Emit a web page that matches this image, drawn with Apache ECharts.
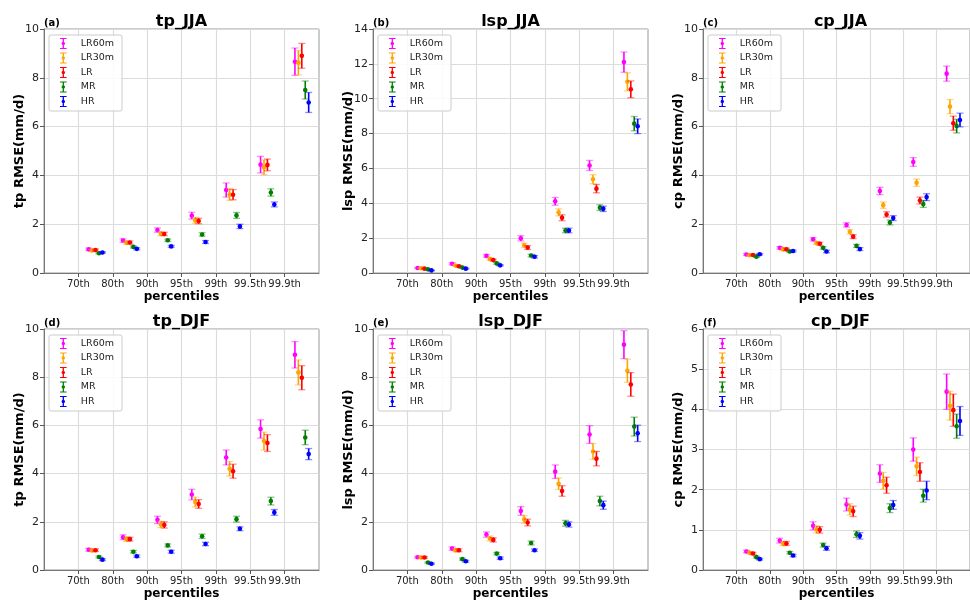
<!DOCTYPE html>
<html>
<head>
<meta charset="utf-8">
<script src="https://cdn.jsdelivr.net/npm/echarts@6/dist/echarts.min.js"></script>
<style>
  html, body { margin: 0; padding: 0; background: #fff; }
  #main { width: 970px; height: 601px; }
</style>
</head>
<body>
<div id="main"></div>
<script>
// percentile groups and models
var cats = ['70th', '80th', '90th', '95th', '99th', '99.5th', '99.9th'];
var models = ['LR60m', 'LR30m', 'LR', 'MR', 'HR'];
var colors = ['#ff00ff', '#ffa500', '#ff0000', '#008000', '#0000ff'];
var offsets = [0.3, 0.4, 0.5, 0.6, 0.7];

// rows: LR60m, LR30m, LR, MR, HR
var tpJJA = [
    [0.97, 1.33, 1.76, 2.35, 3.40, 4.44, 8.66],
    [0.92, 1.24, 1.61, 2.16, 3.22, 4.33, 8.62],
    [0.94, 1.25, 1.60, 2.13, 3.21, 4.43, 8.90],
    [0.81, 1.07, 1.34, 1.58, 2.36, 3.30, 7.50],
    [0.84, 0.99, 1.09, 1.27, 1.91, 2.81, 6.99]
];
var tpJJAErr = [
    [0.05, 0.07, 0.09, 0.14, 0.29, 0.34, 0.56],
    [0.04, 0.06, 0.08, 0.12, 0.24, 0.30, 0.50],
    [0.04, 0.06, 0.07, 0.11, 0.21, 0.24, 0.51],
    [0.03, 0.04, 0.05, 0.07, 0.12, 0.15, 0.37],
    [0.03, 0.04, 0.04, 0.06, 0.09, 0.10, 0.41]
];
var lspJJA = [
    [0.29, 0.53, 0.98, 1.99, 4.11, 6.17, 12.10],
    [0.27, 0.43, 0.81, 1.59, 3.48, 5.38, 10.97],
    [0.25, 0.39, 0.74, 1.46, 3.17, 4.84, 10.54],
    [0.21, 0.31, 0.55, 1.00, 2.44, 3.75, 8.57],
    [0.15, 0.25, 0.44, 0.93, 2.44, 3.68, 8.42]
];
var lspJJAErr = [
    [0.04, 0.06, 0.08, 0.15, 0.22, 0.29, 0.58],
    [0.03, 0.05, 0.07, 0.13, 0.20, 0.26, 0.52],
    [0.03, 0.05, 0.06, 0.11, 0.17, 0.24, 0.48],
    [0.02, 0.03, 0.05, 0.07, 0.13, 0.16, 0.41],
    [0.02, 0.03, 0.04, 0.07, 0.13, 0.15, 0.42]
];
var cpJJA = [
    [0.76, 1.03, 1.38, 1.97, 3.36, 4.55, 8.17],
    [0.73, 0.97, 1.23, 1.69, 2.78, 3.70, 6.82],
    [0.74, 0.97, 1.20, 1.49, 2.40, 2.97, 6.14],
    [0.67, 0.88, 1.03, 1.11, 2.07, 2.83, 6.02],
    [0.77, 0.90, 0.88, 0.98, 2.25, 3.11, 6.27]
];
var cpJJAErr = [
    [0.04, 0.05, 0.07, 0.09, 0.15, 0.18, 0.31],
    [0.03, 0.05, 0.06, 0.09, 0.13, 0.15, 0.29],
    [0.03, 0.05, 0.06, 0.08, 0.11, 0.14, 0.29],
    [0.03, 0.04, 0.05, 0.06, 0.10, 0.14, 0.28],
    [0.03, 0.04, 0.05, 0.06, 0.10, 0.14, 0.28]
];
var tpDJF = [
    [0.84, 1.36, 2.08, 3.13, 4.67, 5.85, 8.93],
    [0.81, 1.28, 1.89, 2.82, 4.20, 5.35, 8.20],
    [0.82, 1.28, 1.87, 2.74, 4.10, 5.27, 7.98],
    [0.54, 0.76, 1.02, 1.40, 2.11, 2.86, 5.50],
    [0.43, 0.57, 0.76, 1.08, 1.71, 2.39, 4.81]
];
var tpDJFErr = [
    [0.06, 0.10, 0.15, 0.22, 0.31, 0.38, 0.55],
    [0.05, 0.09, 0.13, 0.20, 0.30, 0.37, 0.52],
    [0.05, 0.08, 0.13, 0.18, 0.29, 0.35, 0.50],
    [0.04, 0.05, 0.06, 0.09, 0.12, 0.16, 0.30],
    [0.04, 0.05, 0.06, 0.07, 0.08, 0.12, 0.23]
];
var lspDJF = [
    [0.53, 0.89, 1.47, 2.45, 4.08, 5.62, 9.35],
    [0.52, 0.82, 1.31, 2.10, 3.58, 4.92, 8.27],
    [0.52, 0.82, 1.25, 1.97, 3.28, 4.62, 7.70],
    [0.31, 0.45, 0.68, 1.12, 1.94, 2.86, 5.95],
    [0.26, 0.36, 0.49, 0.82, 1.89, 2.69, 5.67]
];
var lspDJFErr = [
    [0.04, 0.07, 0.11, 0.18, 0.28, 0.37, 0.58],
    [0.04, 0.06, 0.10, 0.16, 0.24, 0.33, 0.48],
    [0.04, 0.06, 0.09, 0.14, 0.22, 0.30, 0.49],
    [0.03, 0.04, 0.05, 0.08, 0.12, 0.20, 0.39],
    [0.03, 0.04, 0.05, 0.05, 0.11, 0.17, 0.34]
];
var cpDJF = [
    [0.46, 0.73, 1.10, 1.63, 2.40, 3.00, 4.44],
    [0.43, 0.66, 1.01, 1.51, 2.22, 2.58, 4.09],
    [0.41, 0.66, 1.00, 1.46, 2.11, 2.44, 3.98],
    [0.32, 0.43, 0.62, 0.89, 1.54, 1.85, 3.58],
    [0.27, 0.36, 0.54, 0.85, 1.62, 1.98, 3.71]
];
var cpDJFErr = [
    [0.03, 0.06, 0.10, 0.16, 0.22, 0.29, 0.44],
    [0.03, 0.05, 0.09, 0.14, 0.21, 0.23, 0.36],
    [0.03, 0.05, 0.08, 0.13, 0.20, 0.23, 0.40],
    [0.02, 0.03, 0.05, 0.08, 0.11, 0.16, 0.30],
    [0.02, 0.03, 0.05, 0.08, 0.11, 0.23, 0.36]
];

var panels = [
    { title: 'tp_JJA', tag: '(a)', ylab: 'tp RMSE(mm/d)', ymax: 10, step: 2, mean: tpJJA, err: tpJJAErr },
    { title: 'lsp_JJA', tag: '(b)', ylab: 'lsp RMSE(mm/d)', ymax: 14, step: 2, mean: lspJJA, err: lspJJAErr },
    { title: 'cp_JJA', tag: '(c)', ylab: 'cp RMSE(mm/d)', ymax: 10, step: 2, mean: cpJJA, err: cpJJAErr },
    { title: 'tp_DJF', tag: '(d)', ylab: 'tp RMSE(mm/d)', ymax: 10, step: 2, mean: tpDJF, err: tpDJFErr },
    { title: 'lsp_DJF', tag: '(e)', ylab: 'lsp RMSE(mm/d)', ymax: 10, step: 2, mean: lspDJF, err: lspDJFErr },
    { title: 'cp_DJF', tag: '(f)', ylab: 'cp RMSE(mm/d)', ymax: 6, step: 1, mean: cpDJF, err: cpDJFErr }
];

var lefts = [44, 373, 703];
var rights = [651, 322, -8];
var tops = [29, 329];
var gh = 244;
var font = 'DejaVu Sans';

// errorbar-looking legend icon
var ebIcon = 'path://M0 0H6V0.8H0Z M2.4 0H3.6V10H2.4Z M0 9.2H6V10H0Z M3 3.4A1.6 1.6 0 1 1 3 6.6A1.6 1.6 0 1 1 3 3.4Z';

function renderErr(params, api) {
    var x = api.value(0), y = api.value(1), e = api.value(2);
    var p = api.coord([x, y]);
    var hi = api.coord([x, y + e]);
    var lo = api.coord([x, y - e]);
    var c = api.visual('color');
    return {
        type: 'group',
        children: [
            { type: 'line', shape: { x1: p[0], y1: hi[1], x2: p[0], y2: lo[1] }, style: { stroke: c, lineWidth: 1.6 } },
            { type: 'line', shape: { x1: p[0] - 3.5, y1: hi[1], x2: p[0] + 3.5, y2: hi[1] }, style: { stroke: c, lineWidth: 1.3, opacity: 0.45 } },
            { type: 'line', shape: { x1: p[0] - 3.5, y1: lo[1], x2: p[0] + 3.5, y2: lo[1] }, style: { stroke: c, lineWidth: 1.3, opacity: 0.45 } },
            { type: 'circle', shape: { cx: p[0], cy: p[1], r: 2.3 }, style: { fill: c } }
        ]
    };
}

var grid = [], xAxis = [], yAxis = [], title = [], legend = [], series = [];
var tickVals = [1, 2, 3, 4, 5, 6, 7];

panels.forEach(function (pn, i) {
    var col = i % 3;
    var L = lefts[col], T = tops[Math.floor(i / 3)];
    var cx = L + 137.5;
    grid.push({ left: L, right: rights[col], top: T, height: gh, show: true, borderColor: '#999', borderWidth: 1, backgroundColor: 'transparent' });
    xAxis.push({
        type: 'value', gridIndex: i, min: 0, max: 8, interval: 1,
        name: 'percentiles', nameLocation: 'middle', nameGap: 18, nameMoveOverlap: false,
        nameTextStyle: { fontFamily: font, fontWeight: 'bold', fontSize: 12, color: '#000' },
        axisLine: { lineStyle: { color: '#777' } },
        axisTick: { show: true, inside: false, length: 4, customValues: tickVals, lineStyle: { color: '#555' } },
        axisLabel: {
            customValues: tickVals, margin: 6, fontFamily: font, fontSize: 10, color: '#222',
            hideOverlap: false,
            formatter: function (v) { return cats[v - 1] || ''; }
        },
        splitLine: { show: true, lineStyle: { color: '#dcdcdc', width: 1.2 } }
    });
    yAxis.push({
        type: 'value', gridIndex: i, min: 0, max: pn.ymax, interval: pn.step,
        name: pn.ylab, nameLocation: 'middle', nameGap: 18, nameRotate: 90, nameMoveOverlap: false,
        nameTextStyle: { fontFamily: font, fontWeight: 'bold', fontSize: 13, color: '#000' },
        axisLine: { show: true, lineStyle: { color: '#777' } },
        axisTick: { show: true, length: 4, lineStyle: { color: '#555' } },
        axisLabel: { margin: 5, fontFamily: font, fontSize: 11, color: '#222' },
        splitLine: { show: true, lineStyle: { color: '#dcdcdc', width: 1.2 } }
    });
    title.push({
        text: pn.title, left: cx, top: T - 15, textAlign: 'center', padding: 0,
        textStyle: { fontFamily: font, fontWeight: 'bold', fontSize: 16, color: '#000' }
    });
    title.push({
        text: pn.tag, left: L, top: T - 11, padding: 0,
        textStyle: { fontFamily: font, fontWeight: 'bold', fontSize: 10, color: '#000' }
    });
    legend.push({
        data: models, orient: 'vertical', left: L + 5, top: T + 6,
        icon: ebIcon, itemWidth: 25, itemHeight: 11, itemGap: 3.5,
        padding: [3, 8, 4, 11], backgroundColor: 'rgba(255,255,255,0.85)',
        borderColor: '#ccc', borderWidth: 1, borderRadius: 2,
        textStyle: { fontFamily: font, fontSize: 9.5, color: '#222' },
        selectedMode: false
    });
    models.forEach(function (m, k) {
        var pts = [];
        for (var j = 0; j < cats.length; j++) {
            pts.push([j + 1 + offsets[k], pn.mean[k][j], pn.err[k][j]]);
        }
        series.push({
            name: m, type: 'custom', xAxisIndex: i, yAxisIndex: i,
            renderItem: renderErr, itemStyle: { color: colors[k] },
            encode: { x: 0, y: 1 }, data: pts, clip: false
        });
    });
});

var myChart = echarts.init(document.getElementById('main'));
myChart.setOption({
    animation: false,
    backgroundColor: '#fff',
    title: title,
    grid: grid,
    xAxis: xAxis,
    yAxis: yAxis,
    legend: legend,
    series: series
});
</script>
</body>
</html>
